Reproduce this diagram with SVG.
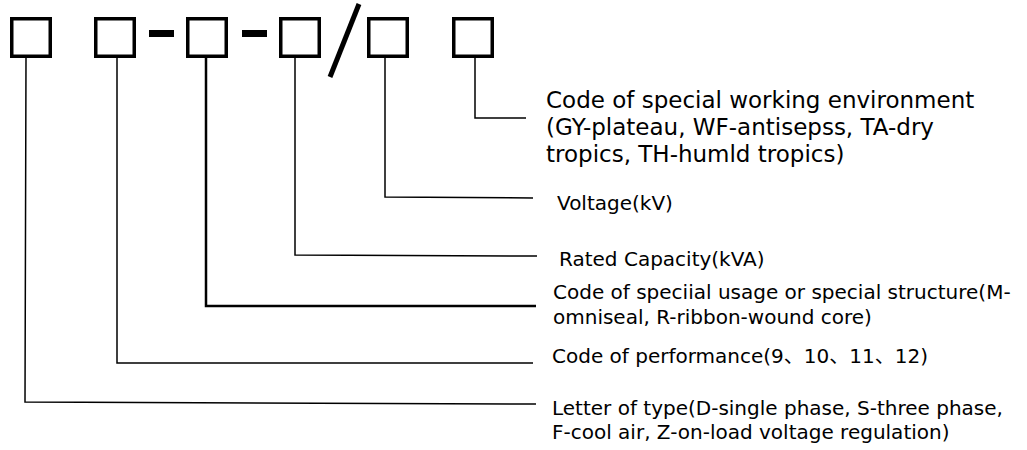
<svg xmlns="http://www.w3.org/2000/svg" width="1027" height="450" viewBox="0 0 1027 450">
  <style>
    .box { fill: none; stroke: #000; stroke-width: 3.5; }
    .sep { fill: #000; }
    .lead { fill: none; stroke: #000; stroke-width: 1.5; }
    .lead-bold { fill: none; stroke: #000; stroke-width: 2.5; }
    .lbl { font-family: "DejaVu Sans", "Noto Sans CJK SC", sans-serif; fill: #000; }
    .big { font-size: 23px; }
    .mid { font-size: 20px; }
  </style>
  <rect width="1027" height="450" fill="#fff"/>

  <!-- code field boxes -->
  <g id="field-type"><rect class="box" x="11.75" y="18.75" width="38.5" height="37.5"/></g>
  <g id="field-performance"><rect class="box" x="95.75" y="18.75" width="38.5" height="37.5"/></g>
  <g id="dash-1"><rect class="sep" x="149" y="30" width="25" height="7"/></g>
  <g id="field-usage"><rect class="box" x="187.75" y="18.75" width="38.5" height="37.5"/></g>
  <g id="dash-2"><rect class="sep" x="242" y="30" width="25" height="7"/></g>
  <g id="field-capacity"><rect class="box" x="280.75" y="18.75" width="38.5" height="37.5"/></g>
  <g id="slash"><line x1="359" y1="4" x2="330" y2="77" stroke="#000" stroke-width="5"/></g>
  <g id="field-voltage"><rect class="box" x="368.75" y="18.75" width="38.5" height="37.5"/></g>
  <g id="field-environment"><rect class="box" x="453.75" y="18.75" width="38.5" height="37.5"/></g>

  <!-- leader lines from each field to its description -->
  <g id="connectors">
    <polyline class="lead" points="475,58 475,118 526,118"/>
    <polyline class="lead" points="385,58 385,197 533,198"/>
    <polyline class="lead" points="295,58 295,255 537,256"/>
    <polyline class="lead-bold" points="206,58 206,306 536,306"/>
    <polyline class="lead" points="117,58 117,363 533,363"/>
    <polyline class="lead" points="26,58 25,402 536,404"/>
  </g>

  <!-- descriptions -->
  <g id="desc-environment" class="lbl big">
    <text x="546" y="108">Code of special working environment</text>
    <text x="546" y="135">(GY-plateau, WF-antisepss, TA-dry</text>
    <text x="546" y="162">tropics, TH-humld tropics)</text>
  </g>
  <g id="desc-voltage" class="lbl mid"><text x="557" y="210">Voltage(kV)</text></g>
  <g id="desc-capacity" class="lbl mid"><text x="559" y="266">Rated Capacity(kVA)</text></g>
  <g id="desc-usage" class="lbl mid">
    <text x="553" y="299">Code of speciial usage or special structure(M-</text>
    <text x="553" y="324">omniseal, R-ribbon-wound core)</text>
  </g>
  <g id="desc-performance" class="lbl mid"><text x="552" y="363">Code of performance(9、10、11、12)</text></g>
  <g id="desc-type" class="lbl mid">
    <text x="552" y="415">Letter of type(D-single phase, S-three phase,</text>
    <text x="552" y="439">F-cool air, Z-on-load voltage regulation)</text>
  </g>
</svg>
